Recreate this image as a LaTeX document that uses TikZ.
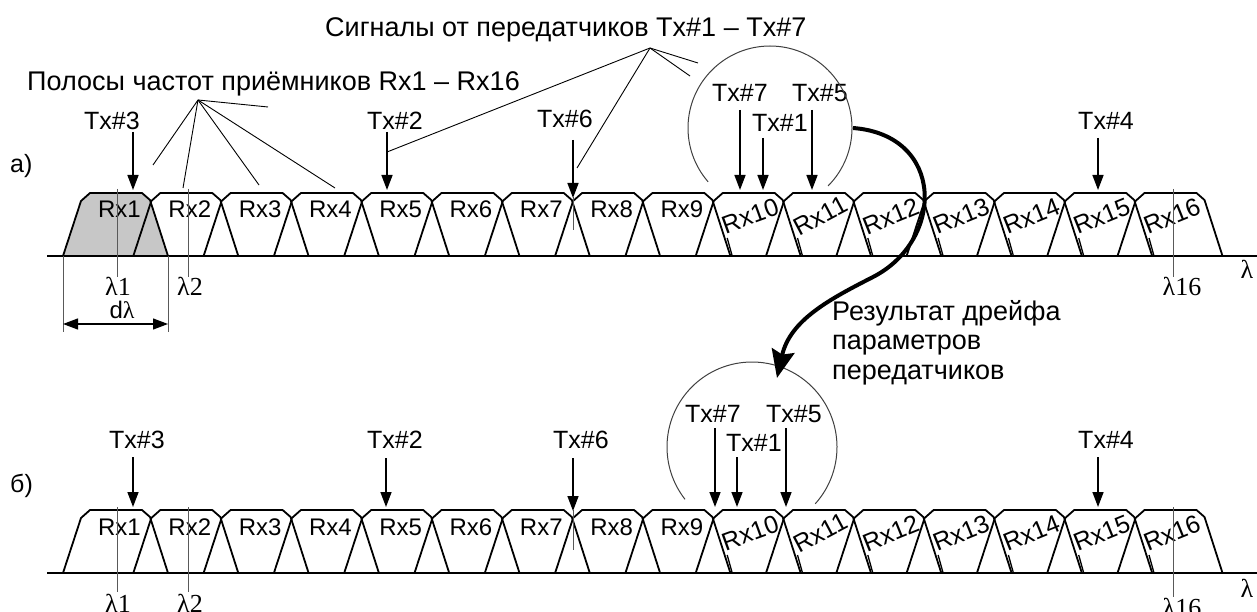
\documentclass[tikz,border=0pt]{standalone}
\usepackage{fontspec}
\setmainfont{Liberation Sans}
\newfontfamily\serifl{Liberation Serif}
\usetikzlibrary{arrows.meta}
\begin{document}
\begin{tikzpicture}[x=1pt,y=-1pt,
  lbl/.style={font=\fontsize{24}{26}\selectfont, inner sep=0pt, anchor=base},
  txl/.style={font=\fontsize{25}{27}\selectfont, inner sep=0pt, anchor=base},
  ttl/.style={font=\fontsize{27}{29}\selectfont, inner sep=0pt, anchor=base west},
  lam/.style={font=\serifl\fontsize{26}{28}\selectfont, inner sep=0pt, anchor=base},
  txarrow/.style={line width=1.5pt, -{Triangle[length=15pt,width=11pt]}},
  dimarrow/.style={line width=1.2pt, {Triangle[length=15pt,width=11pt]}-{Triangle[length=15pt,width=11pt]}},
  trap/.style={line width=1.8pt, line join=round},
  axisline/.style={line width=2pt},
  guide/.style={line width=0.9pt, draw=black!65},
  tick/.style={line width=1.3pt},
  pointer/.style={line width=0.9pt},
  ring/.style={line width=1pt, draw=black!75},
  big/.style={line width=4pt, -{Stealth[length=28pt,width=23pt,inset=4pt]}}]
\useasboundingbox (0,0) rectangle (1257,612);

% ---------- shaded Rx1 band in row a ----------
\fill[black!22] (63,256) -- ++(18,-55) -- ++(9,-8) -- ++(52,0) -- ++(8,7) -- ++(18,56) -- cycle;

% ---------- both rows ----------
\foreach \yy/\row in {256/a,573/b}{
  \draw[axisline] (47,\yy) -- (1257,\yy);
  \foreach \i in {0,...,15}{
    \pgfmathsetmacro\xo{63+70.3*\i}
    \draw[trap] (\xo,\yy) -- ++(18,-55) -- ++(9,-8) -- ++(52,0) -- ++(8,7) -- ++(18,56);
  }
  \foreach \i in {1,...,9}{
    \pgfmathsetmacro\cx{115.5+70.3*(\i-1)+4}
    \node[lbl] (rx\row\i) at (\cx,\yy-38) {Rx\i};
  }
  \foreach \i/\ang in {10/20,11/28,12/22,13/22,14/22,15/22,16/22}{
    \pgfmathsetmacro\cx{115.5+70.3*(\i-1)}
    \node[txl,anchor=center,rotate=\ang] (rx\row\i) at (\cx+2,\yy-40) {Rx\i};
    \draw[tick] (\cx-16,\yy) -- (\cx-21,\yy-18);
  }
}

% ---------- guide lines ----------
\draw[guide] (117,189) -- (117,277);
\draw[guide] (188,189) -- (188,277);
\draw[guide] (1173,189) -- (1173,277);
\draw[guide] (573,197) -- (573,230);
\draw[guide] (117,507) -- (117,592);
\draw[guide] (188,507) -- (188,592);
\draw[guide] (1173,507) -- (1173,597);
\draw[guide] (573,510) -- (573,550);

% ---------- lambda labels ----------
\node[lam] (l1a) at (118,295) {λ1};
\node[lam] (l2a) at (190,295) {λ2};
\node[lam] (l16a) at (1182,295) {λ16};
\node[lam] (lax) at (1247,278) {λ};
\node[lam] (l1b) at (118,612) {λ1};
\node[lam] (l2b) at (190,612) {λ2};
\node[lam] (l16b) at (1182,616) {λ16};
\node[lam] (lbx) at (1247,597) {λ};

% ---------- d lambda ----------
\coordinate (dl1) at (63,256);
\coordinate (dl2) at (168,256);
\draw[guide] (dl1) -- ++(0,76) coordinate (dl1e);
\draw[guide] (dl2) -- ++(0,76) coordinate (dl2e);
\draw[dimarrow] ([yshift=8pt]dl1e) -- ([yshift=8pt]dl2e);
\node[lbl] (dlam) at (122,318) {d{\serifl λ}};

% ---------- row markers ----------
\node[txl,anchor=base west] (ra) at (10,173) {а)};
\node[txl,anchor=base west] (rb) at (10,492) {б)};

% ---------- transmitter labels and arrows (a) ----------
\node[txl] (t3a) at (112,130) {Tx\#3};
\node[txl] (t2a) at (395,130) {Tx\#2};
\node[txl] (t6a) at (565,128) {Tx\#6};
\node[txl] (t7a) at (740,102) {Tx\#7};
\node[txl] (t1a) at (780,132) {Tx\#1};
\node[txl] (t5a) at (820,102) {Tx\#5};
\node[txl] (t4a) at (1106,130) {Tx\#4};
\foreach \n/\x/\ya/\yb in {3/133/132/190, 2/387/132/190, 6/573/140/198, 7/740/110/190, 1/763/138/190, 5/812/110/190, 4/1098/138/190}{
  \coordinate (sa\n) at (\x,\ya);
  \coordinate (ea\n) at (\x,\yb);
  \draw[txarrow] (sa\n) -- (ea\n);
}

% ---------- transmitter labels and arrows (b) ----------
\node[txl] (t3b) at (137,448) {Tx\#3};
\node[txl] (t2b) at (395,448) {Tx\#2};
\node[txl] (t6b) at (581,448) {Tx\#6};
\node[txl] (t7b) at (713,422) {Tx\#7};
\node[txl] (t1b) at (754,451) {Tx\#1};
\node[txl] (t5b) at (794,422) {Tx\#5};
\node[txl] (t4b) at (1106,448) {Tx\#4};
\foreach \n/\x/\ya/\yb in {3/133/457/507, 2/386/458/507, 6/573/458/511, 7/715/428/507, 1/737/457/507, 5/786/428/507, 4/1098/457/507}{
  \coordinate (sb\n) at (\x,\ya);
  \coordinate (eb\n) at (\x,\yb);
  \draw[txarrow] (sb\n) -- (eb\n);
}

% ---------- circles ----------
\coordinate (ca) at (770,128);
\coordinate (cb) at (752,447);
\draw[ring] (ca) ++(-45:82pt) arc[start angle=-45, end angle=221, radius=82pt];
\draw[ring] (cb) ++(-42:85pt) arc[start angle=-42, end angle=218, radius=85pt];

% ---------- drift arrow ----------
\coordinate (drs) at (853,128);
\coordinate (dre) at (777,378);
\draw[big] (drs) .. controls (945,135) and (945,240) .. (873,277)
                 .. controls (830,299) and (790,320) .. (dre);
\node[ttl] (drift1) at (832,320) {Результат дрейфа};
\node[ttl] (drift2) at (832,349.5) {параметров};
\node[ttl] (drift3) at (832,379) {передатчиков};

% ---------- titles and pointers ----------
\node[ttl] (rxtitle) at (27,91) {Полосы частот приёмников Rx1 – Rx16};
\node[ttl] (txtitle) at (325,37) {Сигналы от передатчиков Tx\#1 – Tx\#7};
\coordinate (prx) at (198,100);
\foreach \x/\y [count=\k] in {153/165, 183/188, 259/185, 335/188, 268/107}{
  \coordinate (prx\k) at (\x,\y);
  \draw[pointer] (prx) -- (prx\k);
}
\coordinate (ptx) at (650,48);
\foreach \x/\y [count=\k] in {387/152, 577/168, 690/76, 698/63}{
  \coordinate (ptx\k) at (\x,\y);
  \draw[pointer] (ptx) -- (ptx\k);
}
\end{tikzpicture}
\end{document}
